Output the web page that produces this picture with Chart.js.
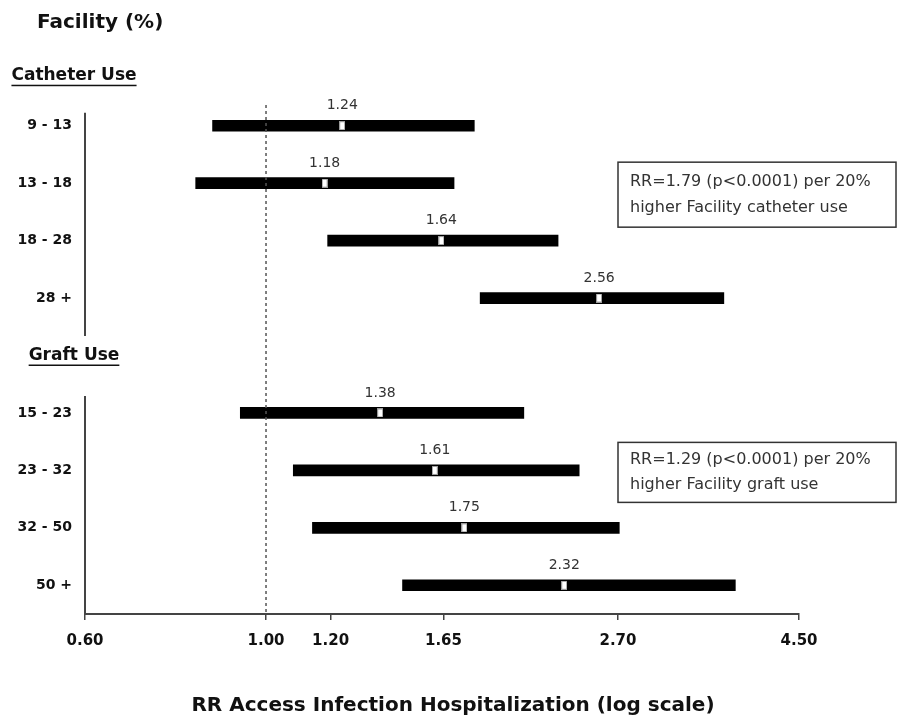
<!DOCTYPE html>
<html>
<head>
<meta charset="utf-8">
<title>Facility access infection RR</title>
<script src="https://cdn.jsdelivr.net/npm/chart.js@4.4.1/dist/chart.umd.min.js"></script>
<style>
  html, body { margin: 0; padding: 0; background: #fff; }
  #wrap { width: 904px; height: 728px; }
</style>
</head>
<body>
<div id="wrap"><canvas id="forest" width="904" height="728"></canvas></div>
<script>
// rows of the forest plot; the blank slot separates the two groups
const rowLabels = ['9 - 13', '13 - 18', '18 - 28', '28 +', '', '15 - 23', '23 - 32', '32 - 50', '50 +'];
const rrEstimate = [1.24, 1.18, 1.64, 2.56, null, 1.38, 1.61, 1.75, 2.32];
const ciLow = [0.86, 0.82, 1.19, 1.83, null, 0.93, 1.08, 1.14, 1.47];
const ciHigh = [1.80, 1.70, 2.28, 3.64, null, 2.07, 2.42, 2.71, 3.76];
const xTicks = [0.60, 1.00, 1.20, 1.65, 2.70, 4.50];

const groupHeaders = ['Catheter Use', 'Graft Use'];
const noteCatheter = ['RR=1.79 (p<0.0001) per 20%', 'higher Facility catheter use'];
const noteGraft = ['RR=1.29 (p<0.0001) per 20%', 'higher Facility graft use'];

const ink = '#111';
const axisColor = '#444';

// little white box used as the point estimate marker
function makeMarker() {
  const c = document.createElement('canvas');
  c.width = 6;
  c.height = 9;
  const g = c.getContext('2d');
  g.fillStyle = '#999';
  g.fillRect(0, 0, 6, 9);
  g.fillStyle = '#fff';
  g.fillRect(1, 1, 4, 7);
  return c;
}

// only rows that carry an estimate get a marker (matched by label)
const rrPoints = [];
rrEstimate.forEach((v, i) => {
  if (v != null) rrPoints.push({ x: v, y: rowLabels[i] });
});

const decor = {
  id: 'decor',
  afterDraw(chart) {
    const { ctx, chartArea, scales } = chart;
    const x = scales.x, y = scales.y;
    const rowY = i => y.getPixelForValue(i);
    ctx.save();

    // reference line at RR = 1
    const x1 = x.getPixelForValue(1);
    ctx.strokeStyle = '#555';
    ctx.lineWidth = 1.5;
    ctx.setLineDash([3, 3]);
    ctx.beginPath();
    ctx.moveTo(x1, chartArea.top + 8);
    ctx.lineTo(x1, chartArea.bottom);
    ctx.stroke();
    ctx.setLineDash([]);

    // split vertical axis, one piece per group
    ctx.strokeStyle = axisColor;
    ctx.lineWidth = 2;
    ctx.beginPath();
    ctx.moveTo(chartArea.left, rowY(0) - 13);
    ctx.lineTo(chartArea.left, rowY(3) + 38);
    ctx.moveTo(chartArea.left, rowY(5) - 17);
    ctx.lineTo(chartArea.left, chartArea.bottom);
    ctx.stroke();

    // value above each marker
    ctx.fillStyle = '#333';
    ctx.font = '14px "DejaVu Sans"';
    ctx.textAlign = 'center';
    ctx.textBaseline = 'middle';
    rrEstimate.forEach((v, i) => {
      if (v == null) return;
      ctx.fillText(v.toFixed(2), x.getPixelForValue(v), rowY(i) - 20);
    });

    // title and group headers
    ctx.fillStyle = ink;
    ctx.font = 'bold 20px "DejaVu Sans"';
    ctx.textAlign = 'left';
    ctx.fillText('Facility (%)', 37, 23);

    ctx.font = 'bold 17px "DejaVu Sans"';
    ctx.textAlign = 'center';
    const headY = [rowY(0) - 50, rowY(4)];
    groupHeaders.forEach((t, k) => {
      const w = ctx.measureText(t).width;
      ctx.fillText(t, 74, headY[k]);
      ctx.fillRect(74 - w / 2, headY[k] + 9, w, 1.5);
    });

    // axis title
    ctx.font = 'bold 20px "DejaVu Sans"';
    ctx.fillText('RR Access Infection Hospitalization (log scale)', 453, 706);

    // note boxes
    const notes = [
      { lines: noteCatheter, top: rowY(1) - 21, h: 65, gap: 26 },
      { lines: noteGraft, top: rowY(6) - 28, h: 60, gap: 25 }
    ];
    ctx.font = '16px "DejaVu Sans"';
    ctx.textAlign = 'left';
    notes.forEach(n => {
      ctx.fillStyle = '#fff';
      ctx.fillRect(618, n.top, 278, n.h);
      ctx.strokeStyle = '#333';
      ctx.lineWidth = 1.5;
      ctx.strokeRect(618, n.top, 278, n.h);
      ctx.fillStyle = '#333';
      const mid = n.top + n.h / 2;
      ctx.fillText(n.lines[0], 630, mid - n.gap / 2);
      ctx.fillText(n.lines[1], 630, mid + n.gap / 2);
    });

    ctx.restore();
  }
};

new Chart(document.getElementById('forest'), {
  type: 'bar',
  data: {
    labels: rowLabels,
    datasets: [
      {
        label: '95% CI',
        data: ciLow.map((lo, i) => (lo == null ? null : [lo, ciHigh[i]])),
        backgroundColor: '#000',
        borderWidth: 0,
        barThickness: 11,
        order: 2
      },
      {
        type: 'scatter',
        label: 'RR',
        data: rrPoints,
        pointStyle: makeMarker(),
        pointRadius: 4,
        order: 1
      }
    ]
  },
  options: {
    indexAxis: 'y',
    responsive: false,
    animation: false,
    layout: { padding: { top: 97, right: 105, left: 0, bottom: 0 } },
    plugins: {
      legend: { display: false },
      tooltip: { enabled: false }
    },
    scales: {
      x: {
        type: 'logarithmic',
        min: 0.6,
        max: 4.5,
        afterBuildTicks: scale => {
          scale.ticks = xTicks.map(v => ({ value: v }));
        },
        afterFit: scale => { scale.height = 114; },
        ticks: {
          autoSkip: false,
          maxRotation: 0,
          padding: 12,
          color: ink,
          font: { family: 'DejaVu Sans', size: 15, weight: 'bold' },
          callback: v => Number(v).toFixed(2)
        },
        grid: {
          drawOnChartArea: false,
          drawTicks: true,
          tickLength: 6,
          color: axisColor,
          lineWidth: 1.5
        },
        border: { display: true, color: axisColor, width: 2 }
      },
      y: {
        type: 'category',
        offset: true,
        afterFit: scale => { scale.width = 85; },
        ticks: {
          padding: 13,
          color: ink,
          font: { family: 'DejaVu Sans', size: 14, weight: 'bold' }
        },
        grid: { display: false, drawTicks: false },
        border: { display: false }
      }
    }
  },
  plugins: [decor]
});
</script>
</body>
</html>
